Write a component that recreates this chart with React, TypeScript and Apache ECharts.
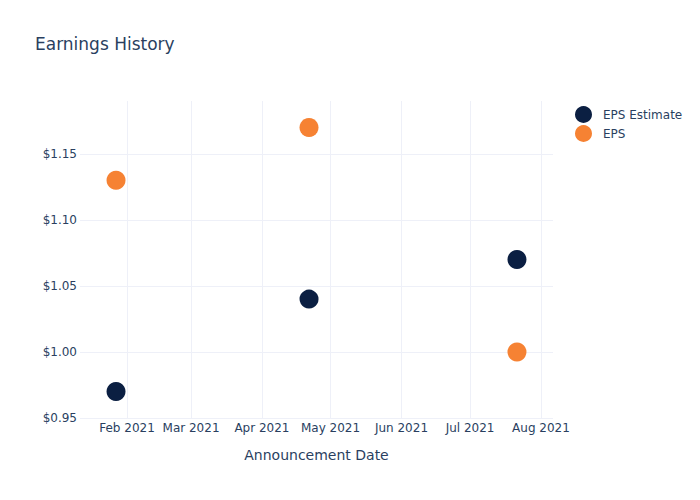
import React, { useEffect, useRef } from "react";
import * as echarts from "echarts";

const dates = ["2021-01-27T05:00:00", "2021-04-21T14:00:00", "2021-07-21T12:00:00"];
const epsEstimate = [0.97, 1.04, 1.07];
const eps = [1.13, 1.17, 1.0];
const monthNames = ["Jan", "Feb", "Mar", "Apr", "May", "Jun", "Jul", "Aug", "Sep", "Oct", "Nov", "Dec"];

const FONT = '"DejaVu Sans", "Open Sans", sans-serif';
const TXT = "#2a3f5f";

export default function App() {
  const ref = useRef<HTMLDivElement>(null);
  useEffect(() => {
    document.body.style.margin = "0";
    const chart = echarts.init(ref.current!, null, { renderer: "svg" });
    const toTs = (s: string) => new Date(s).getTime();
    chart.setOption({
      animation: false,
      backgroundColor: "#ffffff",
      textStyle: { fontFamily: FONT, color: TXT },
      title: {
        text: "Earnings History",
        left: 35,
        top: 35,
        padding: 0,
        textStyle: { fontFamily: FONT, fontSize: 17, fontWeight: "normal", color: TXT },
      },
      legend: {
        orient: "vertical",
        left: 570,
        top: 101,
        itemWidth: 17,
        itemHeight: 17,
        itemGap: 2,
        icon: "circle",
        textStyle: { fontFamily: FONT, fontSize: 12, color: TXT, padding: [0, 0, 0, 6] },
        data: ["EPS Estimate", "EPS"],
      },
      grid: { left: 80, right: 147, top: 101, bottom: 82, containLabel: false },
      xAxis: {
        type: "time",
        min: toTs("2021-01-11T11:00:00"),
        max: toTs("2021-08-06T06:00:00"),
        splitNumber: 7,
        name: "Announcement Date",
        nameLocation: "middle",
        nameGap: 30,
        nameTextStyle: { fontFamily: FONT, fontSize: 14, color: TXT },
        axisLine: { show: false },
        axisTick: { show: false },
        axisLabel: {
          fontFamily: FONT,
          fontSize: 12,
          color: TXT,
          margin: 4,
          hideOverlap: false,
          showMinLabel: false,
          showMaxLabel: false,
          formatter: (v: number) => {
            const d = new Date(v);
            return `${monthNames[d.getMonth()]} ${d.getFullYear()}`;
          },
        },
        splitLine: { show: true, lineStyle: { color: "#eef0f8", width: 1 }, showMinLine: false, showMaxLine: false },
      },
      yAxis: {
        type: "value",
        min: 0.95,
        max: 1.19,
        interval: 0.05,
        axisLine: { show: false },
        axisTick: { show: false },
        axisLabel: {
          fontFamily: FONT,
          fontSize: 12,
          color: TXT,
          margin: 3,
          showMaxLabel: false,
          formatter: (v: number) => "$" + v.toFixed(2),
        },
        splitLine: { show: true, lineStyle: { color: "#eef0f8", width: 1 }, showMaxLine: false },
      },
      series: [
        {
          name: "EPS Estimate",
          type: "scatter",
          symbolSize: 19,
          itemStyle: { color: "#0b1f42", opacity: 1 },
          data: dates.map((d, i) => [toTs(d), epsEstimate[i]]),
        },
        {
          name: "EPS",
          type: "scatter",
          symbolSize: 19,
          itemStyle: { color: "#f68233", opacity: 1 },
          data: dates.map((d, i) => [toTs(d), eps[i]]),
        },
      ],
    });
    return () => chart.dispose();
  }, []);
  return <div ref={ref} style={{ width: 700, height: 500 }} />;
}
